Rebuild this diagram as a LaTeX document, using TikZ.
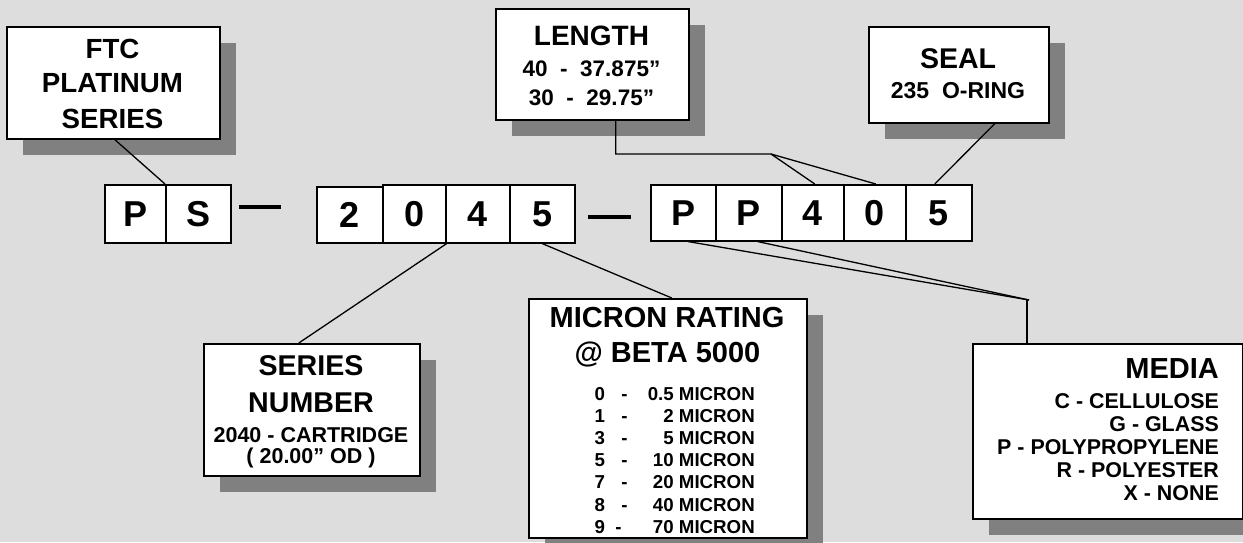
\documentclass[tikz,border=0pt]{standalone}
\usepackage{fontspec}
\setmainfont{Liberation Sans}
\usetikzlibrary{shadows,calc}
\definecolor{bg}{RGB}{221,221,221}
\definecolor{shd}{RGB}{128,128,128}
\newcommand\myfs[1]{\fontsize{#1}{#1}\selectfont\bfseries}
\begin{document}
\begin{tikzpicture}[x=1pt,y=-1pt,
  box/.style={draw=black, line width=1.6pt, fill=white, anchor=north west, inner sep=0pt},
  shbox/.style={box, general shadow={fill=shd, shadow xshift=16pt, shadow yshift=-16pt}},
  code/.style={box, font=\myfs{36}},
  tx/.style={anchor=base, inner sep=0pt},
  link/.style={line width=1.3pt},
  dashl/.style={line width=4pt}]
\fill[bg] (0,0) rectangle (1243,542);
\useasboundingbox (0,0) rectangle (1243,542);

% callout boxes
\node[shbox, minimum width=213pt, minimum height=112pt] (ftc) at (6,26) {};
\node[shbox, minimum width=193pt, minimum height=111pt] (length) at (495,8) {};
\node[shbox, minimum width=180pt, minimum height=96pt] (seal) at (868,26) {};
\node[shbox, minimum width=216pt, minimum height=132pt] (series) at (203,343) {};
\node[shbox, minimum width=278pt, minimum height=239pt] (micron) at (528,298) {};
\node[shbox, minimum width=270pt, minimum height=175pt] (media) at (972,343) {};

% code boxes
\node[code, minimum width=61pt, minimum height=58pt] (p1) at (104,184) {P};
\node[code, minimum width=65pt, minimum height=58pt] (s1) at (165,184) {S};
\node[code, minimum width=66pt, minimum height=56pt] (n2) at (316,186) {\raisebox{-3pt}{2}};
\node[code, minimum width=63pt, minimum height=58pt] (n0) at (382,184) {0};
\node[code, minimum width=64pt, minimum height=58pt] (n4) at (445,184) {4};
\node[code, minimum width=65pt, minimum height=58pt] (n5) at (509,184) {5};
\node[code, minimum width=65pt, minimum height=56pt] (m1) at (650,184) {P};
\node[code, minimum width=66pt, minimum height=56pt] (m2) at (715,184) {P};
\node[code, minimum width=62pt, minimum height=56pt] (l4) at (781,184) {4};
\node[code, minimum width=62pt, minimum height=56pt] (l0) at (843,184) {0};
\node[code, minimum width=66pt, minimum height=56pt] (l5) at (905,184) {5};

% dashes
\coordinate (d1a) at (239,207);
\coordinate (d1b) at (281,207);
\coordinate (d2a) at (588,217);
\coordinate (d2b) at (631,217);
\draw[dashl] (d1a) -- (d1b);
\draw[dashl] (d2a) -- (d2b);

% texts
\node[tx, font=\myfs{27.7}] (ftct1) at (112.5,58) {FTC};
\node[tx, font=\myfs{27.7}] (ftct2) at (112.5,92.5) {PLATINUM};
\node[tx, font=\myfs{27.7}] (ftct3) at (112.5,128) {SERIES};

\node[tx, font=\myfs{28}] (lent1) at (591.5,45) {LENGTH};
\node[tx, font=\myfs{22.5}] (lent2) at (591.5,76) {40~~-~~37.875”};
\node[tx, font=\myfs{22.5}] (lent3) at (591.5,105) {30~~-~~29.75”};

\node[tx, font=\myfs{28.5}] (sealt1) at (958,68) {SEAL};
\node[tx, font=\myfs{23}] (sealt2) at (958,98) {235~~O-RING};

\node[tx, font=\myfs{28.6}] (sert1) at (311,375) {SERIES};
\node[tx, font=\myfs{28.6}] (sert2) at (311,412) {NUMBER};
\node[tx, font=\myfs{21.5}] (sert3) at (311,442) {2040 - CARTRIDGE};
\node[tx, font=\myfs{21.5}] (sert4) at (311,463.5) {( 20.00” OD )};

\node[tx, font=\myfs{29}] (mict1) at (667,327) {MICRON RATING};
\node[tx, font=\myfs{29}] (mict2) at (667.5,362) {@ BETA 5000};
\foreach \d/\v/\k/\dx in {0/0.5/0/624.5, 1/2/1/624.5, 3/5/2/624.5, 5/10/3/624.5, 7/20/4/624.5, 8/40/5/624.5, 9/70/6/618.5}{
  \node[tx, anchor=base west, font=\myfs{18.7}] (micd\k) at (594.5,400+22.2*\k) {\d};
  \node[tx, font=\myfs{18.7}] (mich\k) at (\dx,400+22.2*\k) {-};
  \node[tx, anchor=base east, font=\myfs{18.7}] (micv\k) at (755,400+22.2*\k) {\v\ MICRON};
}

\node[tx, anchor=base east, font=\myfs{29}] (medt0) at (1219,378) {MEDIA};
\node[tx, anchor=base east, font=\myfs{21.4}] (medt1) at (1219,408) {C - CELLULOSE};
\node[tx, anchor=base east, font=\myfs{21.4}] (medt2) at (1219,431) {G - GLASS};
\node[tx, anchor=base east, font=\myfs{21.4}] (medt3) at (1219,454) {P - POLYPROPYLENE};
\node[tx, anchor=base east, font=\myfs{21.4}] (medt4) at (1219,477) {R - POLYESTER};
\node[tx, anchor=base east, font=\myfs{21.4}] (medt5) at (1219,500) {X - NONE};

% connectors
\draw[link] ([xshift=1.5pt]ftc.south) -- (s1.north west);
\coordinate (lj) at (771,154);
\draw[link] ([xshift=23.5pt]length.south) |- (lj) -- ([xshift=2pt]l4.north);
\draw[link] (lj) -- ([xshift=1pt]l0.north);
\draw[link] ([xshift=36pt]seal.south) -- ([xshift=-4pt]l5.north);
\draw[link] ([xshift=-13pt]series.north) -- (n0.south east);
\draw[link] (n5.south) -- ([xshift=4pt]micron.north);
\coordinate (mj) at (1029,300);
\draw[link] ([xshift=5pt]m1.south) -- (mj);
\draw[link] ([xshift=9pt]m2.south) -- (mj);
\draw[link] ([xshift=-2pt]mj) -- ([xshift=-2pt]mj |- media.north);
\end{tikzpicture}
\end{document}
